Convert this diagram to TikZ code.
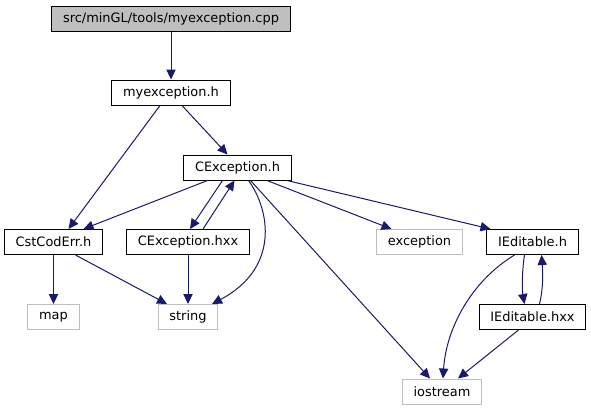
\documentclass[tikz,border=0pt]{standalone}
\usepackage{fontspec}
\setmainfont{DejaVu Sans}
\usepackage{xcolor}
\usetikzlibrary{arrows.meta,positioning,calc}

\definecolor{edgeblue}{RGB}{25,25,112}
\definecolor{boxgray}{RGB}{191,191,191}

\begin{document}
\begin{tikzpicture}[x=0.75pt, y=-0.75pt, >={Triangle[length=7.5pt,width=7pt]},
  font=\fontsize{9.7pt}{11pt}\selectfont,
  file/.style={draw=black, fill=white, line width=0.75pt, minimum height=18.75pt, inner xsep=8.5pt, inner ysep=0pt},
  extfile/.style={file, draw=boxgray},
  dep/.style={->, draw=edgeblue, line width=0.75pt}]
  \useasboundingbox (0,0) rectangle (591,411);

  % Files
  \node[file, fill=boxgray] (cpp) at (171,19) {src/minGL/tools/myexception.cpp};
  \node[file] (myexh) at (171,92.5) {myexception.h};
  \node[file] (cexh) at (237.5,167.5) {CException.h};
  \node[file] (csterr) at (53.5,242) {CstCodErr.h};
  \node[file] (cexhxx) at (188,242) {CException.hxx};
  \node[extfile] (exc) at (419.5,242) {exception};
  \node[file] (iedh) at (532.5,242) {IEditable.h};
  \node[extfile] (map) at (53.5,317) {map};
  \node[extfile] (str) at (188,317) {string};
  \node[file] (iedhxx) at (532.5,317) {IEditable.hxx};
  \node[extfile] (ios) at (442,391.5) {iostream};

  % Includes
  \draw[dep] (cpp.south) -- (cpp.south |- myexh.north);
  \draw[dep] ($(myexh.south)+(-11,0)$) -- ($(csterr.north)+(15,0)$);
  \draw[dep] ($(myexh.south)+(11,0)$) -- ($(cexh.north)+(-10,0)$);
  \draw[dep] ($(cexh.south)+(-30,0)$) -- ($(csterr.north)+(30,0)$);
  \draw[dep] ($(cexh.south)+(-15,0)$) -- ($(cexhxx.north)+(2,0)$);
  \draw[dep] ($(cexhxx.north)+(15,0)$) -- ($(cexh.south)+(-3,0)$);
  \draw[dep] ($(cexh.south)+(11,0)$) .. controls (270,210) and (280,268) .. ($(str.north)+(24,0)$);
  \draw[dep] ($(cexh.south)+(13,0)$) -- ($(ios.north)+(-12,0)$);
  \draw[dep] ($(cexh.south)+(29.5,0)$) -- ($(exc.north)+(-28,0)$);
  \draw[dep] ($(cexh.south)+(49.5,0)$) -- ($(iedh.north)+(-42,0)$);
  \draw[dep] (csterr.south) -- (map.north);
  \draw[dep] ($(csterr.south)+(22,0)$) -- ($(str.north)+(-21,0)$);
  \draw[dep] (cexhxx.south) -- (cexhxx.south |- str.north);
  \draw[dep] ($(iedh.south)+(-8,0)$) .. controls (522,270) and (522,290) .. ($(iedhxx.north)+(-8,0)$);
  \draw[dep] ($(iedhxx.north)+(7,0)$) .. controls (543,290) and (543,275) .. ($(iedh.south)+(9,0)$);
  \draw[dep] ($(iedh.south)+(-18,0)$) .. controls (470,282) and (446,330) .. ($(ios.north)+(1,0)$);
  \draw[dep] ($(iedhxx.south)+(-14,0)$) -- ($(ios.north)+(16,0)$);
\end{tikzpicture}
\end{document}
